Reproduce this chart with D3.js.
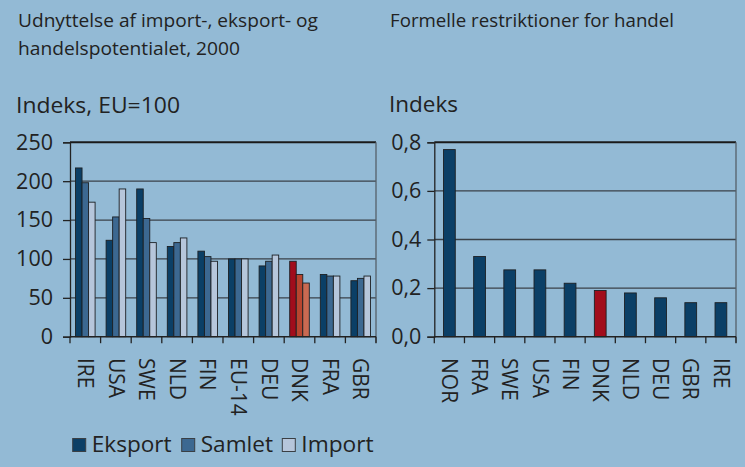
<!DOCTYPE html>
<html><head><meta charset="utf-8">
<script src="https://cdn.jsdelivr.net/npm/d3@7"></script>
<style>
html,body{margin:0;padding:0;background:#93BAD5;}
svg{display:block;}
</style></head>
<body>
<svg id="c" width="745" height="467"></svg>
<script>
// ---- data ----
const leftCategories = ["IRE","USA","SWE","NLD","FIN","EU-14","DEU","DNK","FRA","GBR"];
const eksport = [217, 124, 190, 116, 110, 100, 91, 97, 80, 72];
const samlet  = [198, 154, 152, 121, 103, 100, 97, 80, 78, 75];
const importV = [173, 190, 121, 127, 97, 100, 105, 69, 78, 78];
const seriesNames = ["Eksport","Samlet","Import"];
const leftTicks = [0, 50, 100, 150, 200, 250];

const rightCategories = ["NOR","FRA","SWE","USA","FIN","DNK","NLD","DEU","GBR","IRE"];
const restrictions = [0.77, 0.33, 0.275, 0.275, 0.22, 0.19, 0.18, 0.16, 0.14, 0.14];
const rightTicks = [0, 0.2, 0.4, 0.6, 0.8];

const highlight = "DNK";
const seriesColors = ["#0B3F66", "#3C6891", "#B6C6DB"];
const highlightColors = ["#A10D1C", "#B8452F", "#C96A52"];

// ---- layout ----
const svg = d3.select("#c");
const bg = "#93BAD5";
svg.append("rect").attr("width",745).attr("height",467).attr("fill",bg);
const yTop = 142.3, yBot = 336.7;
const ink = "#222";
const bodyFont = "'Open Sans', 'DejaVu Sans', sans-serif";
const titleFont = "'Liberation Sans Narrow', 'Open Sans', sans-serif";

function titleText(txt, x, y, len, size){
  svg.append("text").attr("x",x).attr("y",y).text(txt)
    .attr("font-family",titleFont).attr("font-size",size).attr("fill",ink)
    .attr("textLength",len).attr("lengthAdjust","spacingAndGlyphs");
}
titleText("Udnyttelse af import-, eksport- og", 18, 26.7, 300, 19);
titleText("handelspotentialet, 2000", 18, 55, 222, 19);
titleText("Formelle restriktioner for handel", 390, 26.7, 284, 19);

svg.append("text").attr("x",16).attr("y",113.3).text("Indeks, EU=100")
  .attr("font-family",bodyFont).attr("font-size",21.5).attr("fill",ink)
  .attr("textLength",164).attr("lengthAdjust","spacingAndGlyphs");
svg.append("text").attr("x",389).attr("y",112.3).text("Indeks")
  .attr("font-family",bodyFont).attr("font-size",21.5).attr("fill",ink)
  .attr("textLength",69).attr("lengthAdjust","spacingAndGlyphs");

function panel(opts){
  const {x0, x1, cats, yDomain, ticks, fmt, labelPad, padding} = opts;
  const x = d3.scaleBand().domain(cats).range([x0, x1]).paddingInner(padding).paddingOuter(padding/2);
  const y = d3.scaleLinear().domain(yDomain).range([yBot, yTop]);
  const g = svg.append("g");
  // gridlines
  g.selectAll("line.grid").data(ticks.slice(1, -1)).join("line")
    .attr("x1",x0).attr("x2",x1).attr("y1",d=>y(d)).attr("y2",d=>y(d))
    .attr("stroke","#3a4148").attr("stroke-width",1.3);
  // top border and right border
  g.append("line").attr("x1",x0).attr("x2",x1).attr("y1",yTop).attr("y2",yTop)
    .attr("stroke","#1a1a1a").attr("stroke-width",2);
  g.append("line").attr("x1",x1).attr("x2",x1).attr("y1",yTop).attr("y2",yBot+6)
    .attr("stroke","#55606a").attr("stroke-width",1.3);
  // y axis
  const yAxis = d3.axisLeft(y).tickValues(ticks).tickFormat(fmt).tickSize(7).tickPadding(labelPad);
  const ya = g.append("g").attr("transform",`translate(${x0},0)`).call(yAxis);
  ya.select(".domain").attr("stroke",ink).attr("stroke-width",1.3);
  ya.selectAll(".tick line").attr("stroke",ink).attr("stroke-width",1.3);
  ya.selectAll("text").attr("font-family",bodyFont).attr("font-size",21.5).attr("fill",ink);
  return {x, y, g};
}

// left panel
const L = panel({x0:70, x1:376, cats:leftCategories, yDomain:[0,250], ticks:leftTicks,
  fmt:d3.format("d"), labelPad:10, padding:0.36});
const sub = d3.scaleBand().domain(seriesNames).range([0, L.x.bandwidth()]);
const leftData = leftCategories.map((c,i)=>({c, vals:[eksport[i], samlet[i], importV[i]]}));
L.g.selectAll("g.grp").data(leftData).join("g")
  .attr("transform",d=>`translate(${L.x(d.c)},0)`)
  .selectAll("rect").data(d=>d.vals.map((v,j)=>({c:d.c, v, j}))).join("rect")
  .attr("x",d=>sub(seriesNames[d.j])).attr("width",sub.bandwidth())
  .attr("y",d=>L.y(d.v)).attr("height",d=>L.y(0)-L.y(d.v))
  .attr("fill",d=>d.c===highlight ? highlightColors[d.j] : seriesColors[d.j])
  .attr("stroke","#1c2024").attr("stroke-width",0.9);

// right panel
const R = panel({x0:434.3, x1:736, cats:rightCategories, yDomain:[0,0.8], ticks:rightTicks,
  fmt:d=>d3.format(".1f")(d).replace(".",","), labelPad:6, padding:0.61});
R.g.selectAll("rect.bar").data(rightCategories.map((c,i)=>({c, v:restrictions[i]}))).join("rect")
  .attr("x",d=>R.x(d.c)).attr("width",R.x.bandwidth())
  .attr("y",d=>R.y(d.v)).attr("height",d=>R.y(0)-R.y(d.v))
  .attr("fill",d=>d.c===highlight ? highlightColors[0] : seriesColors[0])
  .attr("stroke","#1c2024").attr("stroke-width",0.9);

// x axes (band boundaries as ticks, rotated labels)
function xAxis(P, x0, x1, cats){
  const g = svg.append("g");
  g.append("line").attr("x1",x0).attr("x2",x1).attr("y1",yBot).attr("y2",yBot)
    .attr("stroke",ink).attr("stroke-width",1.5);
  const step = P.x.step();
  const bounds = cats.map(c=>P.x(c) - P.x.paddingInner()*step/2 ).concat([x1]);
  g.selectAll("line.t").data(bounds).join("line")
    .attr("x1",d=>d).attr("x2",d=>d).attr("y1",yBot).attr("y2",yBot+6.5)
    .attr("stroke",ink).attr("stroke-width",1.3);
  g.selectAll("text").data(cats).join("text")
    .attr("transform",d=>`translate(${P.x(d)+P.x.bandwidth()/2},358) rotate(90)`)
    .attr("dy","0.35em").attr("text-anchor","start")
    .attr("font-family",bodyFont).attr("font-size",21).attr("fill",ink)
    .text(d=>d);
}
xAxis(L, 70, 376, leftCategories);
xAxis(R, 434.3, 736, rightCategories);

// legend
const legendX = [72.7, 181.7, 282.3];
const legendTextW = [80, 72.4, 72.3];
seriesNames.forEach((s,i)=>{
  svg.append("rect").attr("x",legendX[i]).attr("y",438.5).attr("width",13).attr("height",13)
    .attr("fill",seriesColors[i]).attr("stroke","#3a3f44").attr("stroke-width",1);
  svg.append("text").attr("x",legendX[i]+19).attr("y",451.7).text(s)
    .attr("font-family",bodyFont).attr("font-size",21).attr("fill",ink)
    .attr("textLength",legendTextW[i]).attr("lengthAdjust","spacingAndGlyphs");
});
</script>
</body></html>
